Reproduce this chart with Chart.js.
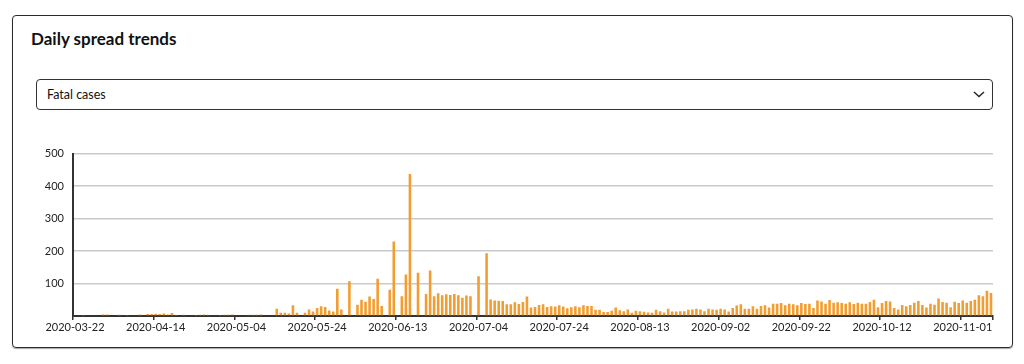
<!DOCTYPE html>
<html>
<head>
<meta charset="utf-8">
<script src="https://cdn.jsdelivr.net/npm/chart.js@4/dist/chart.umd.min.js"></script>
<style>
  html, body { margin: 0; padding: 0; background: #fff; }
  body { width: 1024px; height: 364px; position: relative; overflow: hidden; font-family: Lato, 'Open Sans', sans-serif; color: #111; }
  .card { position: absolute; left: 12px; top: 15px; width: 999px; height: 331px; border: 1px solid #2b2b2b; border-radius: 4px; box-shadow: 0 1px 1px rgba(0,0,0,.35); }
  .card h3 { position: absolute; left: 18px; top: 12px; margin: 0; font-size: 17px; line-height: 22px; font-weight: 700; }
  .select { position: absolute; left: 23px; top: 63px; width: 955px; height: 29px; border: 1px solid #333; border-radius: 4px; }
  .select span { position: absolute; left: 10px; top: 0; line-height: 29px; font-size: 12.5px; }
  .select svg { position: absolute; right: 6px; top: 9px; }
  #chart { position: absolute; left: 30px; top: 138px; }
</style>
</head>
<body>
<div class="card">
  <h3>Daily spread trends</h3>
  <div class="select"><span>Fatal cases</span>
    <svg width="14" height="10" viewBox="0 0 14 10"><path d="M2 3 L7 7.5 L12 3" fill="none" stroke="#222" stroke-width="1.4"/></svg>
  </div>
</div>
<canvas id="chart" width="970" height="202"></canvas>
<script>
// ══════════════════════════════════════════════
//  DATA: fatal cases per reported day
// ══════════════════════════════════════════════
const dates = [
  '2020-03-22','2020-03-23','2020-03-24','2020-03-26','2020-03-27','2020-03-28','2020-03-29','2020-03-30',
  '2020-04-01','2020-04-02','2020-04-03','2020-04-04','2020-04-05','2020-04-06','2020-04-08','2020-04-09','2020-04-10',
  '2020-04-11','2020-04-12','2020-04-13','2020-04-14','2020-04-15','2020-04-16','2020-04-17','2020-04-18','2020-04-19',
  '2020-04-20','2020-04-21','2020-04-22','2020-04-23','2020-04-24','2020-04-25','2020-04-26','2020-04-27','2020-04-28',
  '2020-04-29','2020-04-30',
  '2020-05-01','2020-05-02','2020-05-03','2020-05-04','2020-05-05','2020-05-06','2020-05-07','2020-05-08','2020-05-09',
  '2020-05-10','2020-05-11','2020-05-12','2020-05-13','2020-05-14','2020-05-15','2020-05-16','2020-05-17','2020-05-18',
  '2020-05-19','2020-05-20','2020-05-21','2020-05-22','2020-05-23','2020-05-24','2020-05-25','2020-05-26','2020-05-27',
  '2020-05-28','2020-05-29','2020-05-30','2020-05-31',
  '2020-06-01','2020-06-02','2020-06-03','2020-06-04','2020-06-05','2020-06-06','2020-06-07','2020-06-08','2020-06-09',
  '2020-06-10','2020-06-11','2020-06-12','2020-06-13','2020-06-14','2020-06-15','2020-06-16','2020-06-17','2020-06-18',
  '2020-06-19','2020-06-20','2020-06-21','2020-06-23','2020-06-24','2020-06-25','2020-06-26','2020-06-27','2020-06-28',
  '2020-06-29','2020-06-30',
  '2020-07-01','2020-07-02','2020-07-03','2020-07-04','2020-07-05','2020-07-06','2020-07-07','2020-07-08','2020-07-09',
  '2020-07-10','2020-07-11','2020-07-12','2020-07-13','2020-07-14','2020-07-15','2020-07-16','2020-07-17','2020-07-18',
  '2020-07-19','2020-07-20','2020-07-21','2020-07-22','2020-07-23','2020-07-24','2020-07-25','2020-07-26','2020-07-27',
  '2020-07-28','2020-07-29','2020-07-30','2020-07-31',
  '2020-08-01','2020-08-02','2020-08-03','2020-08-04','2020-08-05','2020-08-06','2020-08-07','2020-08-08','2020-08-09',
  '2020-08-10','2020-08-11','2020-08-12','2020-08-13','2020-08-14','2020-08-15','2020-08-16','2020-08-17','2020-08-18',
  '2020-08-19','2020-08-20','2020-08-21','2020-08-22','2020-08-23','2020-08-24','2020-08-25','2020-08-26','2020-08-27',
  '2020-08-28','2020-08-29','2020-08-30','2020-08-31',
  '2020-09-01','2020-09-02','2020-09-03','2020-09-04','2020-09-05','2020-09-06','2020-09-07','2020-09-08','2020-09-09',
  '2020-09-10','2020-09-11','2020-09-12','2020-09-13','2020-09-14','2020-09-15','2020-09-16','2020-09-17','2020-09-18',
  '2020-09-19','2020-09-20','2020-09-21','2020-09-22','2020-09-23','2020-09-24','2020-09-25','2020-09-26','2020-09-27',
  '2020-09-28','2020-09-29','2020-09-30',
  '2020-10-01','2020-10-02','2020-10-03','2020-10-04','2020-10-05','2020-10-06','2020-10-07','2020-10-08','2020-10-09',
  '2020-10-10','2020-10-11','2020-10-12','2020-10-13','2020-10-14','2020-10-15','2020-10-16','2020-10-17','2020-10-18',
  '2020-10-19','2020-10-20','2020-10-21','2020-10-22','2020-10-23','2020-10-24','2020-10-25','2020-10-26','2020-10-27',
  '2020-10-28','2020-10-29','2020-10-30','2020-10-31',
  '2020-11-01','2020-11-02','2020-11-03','2020-11-04','2020-11-05','2020-11-06','2020-11-07','2020-11-08'
];

const fatalCases = [
  0, 0, 3, 0, 0, 0, 0, 5, 5, 0,
  0, 4, 0, 3, 0, 0, 5, 0, 6, 6,
  7, 6, 8, 5, 9, 3, 0, 4, 0, 0,
  3, 4, 5, 4, 0, 0, 3, 4, 4, 5,
  2, 0, 0, 4, 4, 4, 5, 0, 0, 0,
  22, 10, 10, 8, 33, 10, 0, 10, 20, 14,
  25, 30, 28, 17, 14, 84, 20, 0, 107, 0,
  35, 50, 44, 60, 52, 115, 31, 0, 81, 229,
  0, 61, 128, 437, 0, 133, 0, 68, 140, 61,
  70, 64, 67, 65, 68, 64, 56, 63, 61, 0,
  122, 0, 193, 51, 48, 47, 46, 36, 36, 42,
  37, 43, 60, 26, 28, 34, 36, 28, 30, 29,
  33, 29, 24, 27, 30, 27, 33, 31, 31, 19,
  19, 12, 12, 16, 26, 18, 15, 20, 10, 16,
  15, 13, 11, 10, 19, 15, 11, 22, 14, 14,
  15, 15, 19, 20, 22, 20, 15, 22, 20, 19,
  22, 20, 14, 25, 32, 36, 22, 22, 30, 22,
  31, 33, 26, 38, 38, 40, 33, 38, 36, 33,
  40, 37, 38, 25, 48, 45, 38, 49, 41, 42,
  40, 38, 42, 37, 41, 38, 38, 43, 50, 27,
  40, 46, 45, 25, 20, 34, 30, 34, 41, 46,
  34, 26, 38, 35, 54, 43, 41, 27, 44, 40,
  48, 41, 46, 50, 64, 61, 78, 71
];

const yTicks = [100, 200, 300, 400, 500];
const LABEL_EVERY = 20;

const tickFont = { family: 'Lato', size: 11 };
const shown = i => i === undefined || i % LABEL_EVERY === 0;

new Chart(document.getElementById('chart'), {
  type: 'bar',
  data: { labels: dates, datasets: [{ data: fatalCases, backgroundColor: '#F39C2F', borderWidth: 0, barPercentage: 0.75, categoryPercentage: 0.85 }] },
  options: {
    responsive: false, animation: false,
    layout: { padding: { top: 8, right: 7, left: 0, bottom: 0 } },
    plugins: { legend: { display: false }, tooltip: { enabled: false } },
    scales: {
      x: {
        grid: { display: true, drawOnChartArea: false, offset: true, tickLength: 4, lineWidth: 1.5,
                color: c => shown(c.index) ? '#333' : 'rgba(0,0,0,0)' },
        border: { color: '#333', width: 2 },
        ticks: { autoSkip: false, maxRotation: 0, minRotation: 0, padding: 1, color: '#222', font: tickFont,
                 callback: (v, i) => i % LABEL_EVERY === 0 ? dates[i] : '' },
        afterFit: s => { s.height = 24; }
      },
      y: {
        min: 0, max: yTicks[yTicks.length - 1],
        grid: { color: '#cacaca', lineWidth: 1.5, drawTicks: false },
        border: { color: '#333', width: 2 },
        ticks: { stepSize: 100, padding: 9, color: '#222', font: tickFont,
                 callback: v => yTicks.includes(v) ? String(v) : '' },
        afterFit: s => { s.width = 43; }
      }
    }
  }
});
</script>
</body>
</html>
